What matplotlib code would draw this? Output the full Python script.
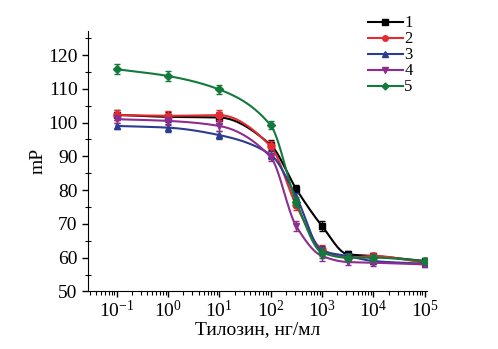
import numpy as np
import matplotlib.pyplot as plt
from matplotlib.ticker import FixedLocator, LogLocator, MultipleLocator, NullFormatter

plt.rcParams['font.family'] = ['Liberation Serif', 'DejaVu Serif']
plt.rcParams['mathtext.fontset'] = 'stix'

# concentrations, ng/ml
conc = [0.1, 1, 10, 100, 316, 1000, 3162, 10000, 100000]

s1 = [102.3, 101.7, 101.5, 93.4, 80.3, 69.4, 61.0, 60.5, 59.0]
s2 = [102.2, 102.0, 102.2, 93.0, 75.5, 62.5, 60.0, 60.5, 58.5]
s3 = [99.0, 98.5, 96.3, 90.5, 78.0, 62.0, 60.5, 59.0, 58.2]
s4 = [101.0, 100.5, 99.0, 89.8, 69.3, 60.5, 58.7, 58.5, 58.0]
s5 = [115.8, 113.8, 109.8, 99.2, 76.5, 61.5, 60.0, 60.0, 59.0]

e1 = [1.5, 1.5, 1.5, 1.5, 1.2, 1.5, 1.0, 1.0, 0.8]
e2 = [1.5, 1.5, 1.5, 1.5, 1.5, 1.2, 1.0, 1.0, 0.8]
e3 = [1.0, 1.2, 1.2, 1.2, 1.2, 1.5, 1.0, 1.0, 0.8]
e4 = [1.2, 1.2, 1.5, 1.2, 1.5, 1.5, 1.0, 1.0, 0.8]
e5 = [1.5, 1.5, 1.2, 1.2, 1.5, 1.5, 1.0, 1.0, 0.8]

labels = ['1', '2', '3', '4', '5']
colors = ['#000000', '#e52a30', '#2b3c91', '#8e2c8f', '#137a3c']
markers = ['s', 'o', '^', 'v', 'D']
xticks = [0.1, 1, 10, 100, 1000, 10000, 100000]


def smooth_curve(x, y, n=400):
    # monotone cubic (PCHIP) through the points, in log10(x)
    lx = np.log10(x)
    y = np.asarray(y, float)
    h = np.diff(lx)
    dl = np.diff(y) / h
    d = np.zeros_like(y)
    for k in range(1, len(y) - 1):
        if dl[k - 1] * dl[k] > 0:
            w1 = 2 * h[k] + h[k - 1]
            w2 = h[k] + 2 * h[k - 1]
            d[k] = (w1 + w2) / (w1 / dl[k - 1] + w2 / dl[k])
    d[0], d[-1] = dl[0], dl[-1]
    xs = np.linspace(lx[0], lx[-1], n)
    k = np.clip(np.searchsorted(lx, xs) - 1, 0, len(h) - 1)
    t = (xs - lx[k]) / h[k]
    h00 = 2 * t**3 - 3 * t**2 + 1
    h10 = t**3 - 2 * t**2 + t
    h01 = -2 * t**3 + 3 * t**2
    h11 = t**3 - t**2
    ys = h00 * y[k] + h10 * h[k] * d[k] + h01 * y[k + 1] + h11 * h[k] * d[k + 1]
    return 10 ** xs, ys


fig = plt.figure(figsize=(4.98, 3.49), dpi=100)
ax = fig.add_axes([0.177, 0.165, 0.68, 0.745])

handles = []
for y, e, lab, col, m in zip([s1, s2, s3, s4, s5], [e1, e2, e3, e4, e5],
                             labels, colors, markers):
    xs, ys = smooth_curve(conc, y)
    ax.plot(xs, ys, color=col, lw=1.5)
    ax.errorbar(conc, y, yerr=e, fmt='none', ecolor=col, elinewidth=1,
                capsize=2.5, capthick=1)
    ms = 4.5 if m == 'D' else 5
    ax.plot(conc, y, ls='none', marker=m, color=col, ms=ms)
    h, = ax.plot([], [], color=col, marker=m, ms=ms - 1, lw=1.5, label=lab)
    handles.append(h)

ax.set_xscale('log')
ax.set_xlim(0.028, 1.1e5)
ax.set_ylim(50, 127)
ax.yaxis.set_major_locator(MultipleLocator(10))
ax.yaxis.set_minor_locator(MultipleLocator(5))
ax.xaxis.set_major_locator(FixedLocator(xticks))
ax.xaxis.set_minor_locator(LogLocator(base=10, subs=np.arange(2, 10), numticks=12))
ax.xaxis.set_minor_formatter(NullFormatter())

for s in ['top', 'right']:
    ax.spines[s].set_visible(False)
ax.tick_params(axis='both', which='major', direction='out', length=4,
               labelsize=14, width=1)
ax.tick_params(axis='x', which='major', pad=2)
ax.tick_params(axis='y', which='minor', direction='inout', length=4, width=0.8)
ax.tick_params(axis='x', which='minor', direction='out', length=3, width=0.8)

ax.set_xlabel('Тилозин, нг/мл', fontsize=14, labelpad=0)
ax.set_ylabel('mP', fontsize=14, labelpad=1)

fig.legend(handles=handles, loc='upper left', bbox_to_anchor=(0.725, 0.975),
           frameon=False, fontsize=12, handlelength=2.1, handletextpad=0.1,
           labelspacing=0.0, borderaxespad=0)

fig.savefig('out.png', dpi=100)
